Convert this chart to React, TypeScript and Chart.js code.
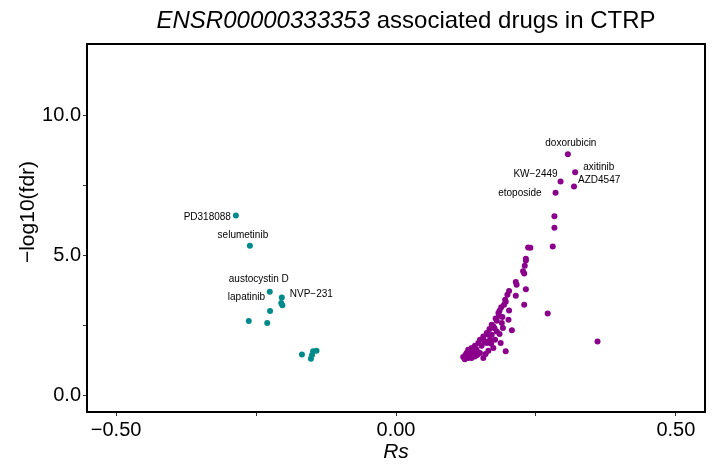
import React, { useEffect, useRef } from 'react';
import { Chart, registerables } from 'chart.js';

Chart.register(...registerables);

// ---- data ----
const negNames = ['PD318088', 'selumetinib', 'austocystin D', 'NVP\u2212231', '', '', 'lapatinib', '', '', '', '', '', '', ''];
const negRs = [-0.286, -0.261, -0.2255, -0.204, -0.205, -0.203, -0.225, -0.263, -0.230, -0.168, -0.152, -0.148, -0.142, -0.150];
const negFdr = [6.42, 5.34, 3.70, 3.50, 3.30, 3.22, 3.02, 2.66, 2.59, 1.47, 1.32, 1.58, 1.60, 1.45];

const posNames = ['doxorubicin', 'axitinib', 'KW\u22122449', 'AZD4547', 'etoposide'];
const posRs = [
  0.307, 0.320, 0.294, 0.318, 0.285,
  0.283, 0.283, 0.280, 0.236, 0.240, 0.232, 0.232, 0.230, 0.227, 0.229,
  0.214, 0.2155, 0.232, 0.202, 0.214, 0.229, 0.271, 0.360, 0.199, 0.195,
  0.193, 0.202, 0.185, 0.184, 0.201, 0.180, 0.189, 0.207, 0.191, 0.171,
  0.167, 0.162, 0.156, 0.150, 0.147, 0.141, 0.135, 0.129, 0.126, 0.120,
  0.135, 0.156, 0.160, 0.174, 0.187, 0.196, 0.168, 0.162, 0.153, 0.144,
  0.132, 0.150, 0.141, 0.129, 0.174, 0.180, 0.165, 0.171, 0.177, 0.178,
  0.183, 0.188, 0.196, 0.158, 0.138, 0.124, 0.145, 0.165, 0.170, 0.185,
  0.176, 0.190, 0.123, 0.131, 0.140,
];
const posFdr = [
  8.60, 7.96, 7.63, 7.45, 7.23,
  6.39, 5.98, 5.32, 5.28, 5.27, 4.88, 4.82, 4.63, 4.43, 4.35,
  4.05, 3.95, 3.79, 3.73, 3.56, 3.24, 2.93, 1.93, 3.60, 3.42,
  3.24, 3.04, 3.03, 2.85, 2.71, 2.67, 2.59, 2.33, 2.41, 2.53,
  2.38, 2.23, 2.11, 1.99, 1.88, 1.78, 1.70, 1.64, 1.52, 1.38,
  1.34, 1.34, 1.49, 1.70, 1.88, 1.58, 1.99, 1.88, 1.78, 1.64,
  1.52, 1.52, 1.40, 1.34, 2.47, 2.29, 2.17, 2.17, 1.99, 2.75,
  2.95, 3.15, 3.35, 1.95, 1.55, 1.45, 1.45, 1.60, 1.85, 2.20,
  2.40, 2.80, 1.30, 1.42, 1.62,
];

const xTickValues = [-0.5, -0.25, 0, 0.25, 0.5];
const xTickLabels = ['\u22120.50', '', '0.00', '', '0.50'];
const yTickValues = [0, 2.5, 5, 7.5, 10];
const yTickLabels = ['0.0', '', '5.0', '', '10.0'];

const titleItalic = 'ENSR00000333353';
const titleRest = ' associated drugs in CTRP';
const xTitle = 'Rs';
const yTitle = '\u2212log10(fdr)';

// ---- label styles (offsets in px from the point) ----
const labelStyle: Record<string, { dx: number; dy: number; align: CanvasTextAlign }> = {
  PD318088: { dx: -5, dy: 2, align: 'right' },
  selumetinib: { dx: -7, dy: -11, align: 'center' },
  'austocystin D': { dx: -11, dy: -13, align: 'center' },
  'NVP\u2212231': { dx: 8, dy: -3, align: 'left' },
  lapatinib: { dx: -5, dy: -14, align: 'right' },
  doxorubicin: { dx: 3, dy: -11, align: 'center' },
  axitinib: { dx: 8, dy: -5, align: 'left' },
  'KW\u22122449': { dx: -3, dy: -7, align: 'right' },
  AZD4547: { dx: 4, dy: -6, align: 'left' },
  etoposide: { dx: -14, dy: 0, align: 'right' },
};

const FONT = '"Liberation Sans", Arial, sans-serif';

export default function App() {
  const ref = useRef<HTMLCanvasElement | null>(null);

  useEffect(() => {
    if (!ref.current) return;

    const negData = negRs.map((x, i) => ({ x, y: negFdr[i] }));
    const posData = posRs.map((x, i) => ({ x, y: posFdr[i] }));

    const framePlugin = {
      id: 'frameAndLabels',
      afterDatasetsDraw(chart: any) {
        const { ctx, chartArea, scales } = chart;
        ctx.save();
        // labels
        ctx.fillStyle = '#000';
        ctx.font = `10px ${FONT}`;
        ctx.textBaseline = 'middle';
        const drawLabels = (names: string[], xs: number[], ys: number[]) => {
          names.forEach((n, i) => {
            if (!n) return;
            const st = labelStyle[n];
            const px = scales.x.getPixelForValue(xs[i]);
            const py = scales.y.getPixelForValue(ys[i]);
            ctx.textAlign = st.align;
            ctx.fillText(n, px + st.dx, py + st.dy);
          });
        };
        drawLabels(negNames, negRs, negFdr);
        drawLabels(posNames, posRs, posFdr);
        // frame
        ctx.strokeStyle = '#000';
        ctx.lineWidth = 2;
        ctx.strokeRect(chartArea.left, chartArea.top, chartArea.right - chartArea.left, chartArea.bottom - chartArea.top);
        // title
        ctx.textBaseline = 'alphabetic';
        ctx.textAlign = 'left';
        ctx.font = `italic 24px ${FONT}`;
        const w1 = ctx.measureText(titleItalic).width;
        ctx.font = `24px ${FONT}`;
        const w2 = ctx.measureText(titleRest).width;
        const cx = (chartArea.left + chartArea.right) / 2 + 10;
        const x0 = cx - (w1 + w2) / 2;
        const ty = 28;
        ctx.font = `italic 24px ${FONT}`;
        ctx.fillText(titleItalic, x0, ty);
        ctx.font = `24px ${FONT}`;
        ctx.fillText(titleRest, x0 + w1, ty);
        // y axis title
        ctx.save();
        ctx.translate(28, 212);
        ctx.rotate(-Math.PI / 2);
        ctx.textAlign = 'center';
        ctx.textBaseline = 'middle';
        ctx.font = `21px ${FONT}`;
        ctx.fillText(yTitle, 0, 0);
        ctx.restore();
        ctx.restore();
      },
    };

    const chart = new Chart(ref.current, {
      type: 'scatter',
      data: {
        datasets: [
          {
            data: negData,
            backgroundColor: '#008B8B',
            borderColor: '#008B8B',
            pointRadius: 3,
            pointBorderWidth: 0,
          },
          {
            data: posData,
            backgroundColor: '#8B008B',
            borderColor: '#8B008B',
            pointRadius: 3,
            pointBorderWidth: 0,
          },
        ],
      },
      options: {
        animation: false,
        responsive: false,
        events: [],
        layout: { padding: { top: 44, right: 12, left: 0, bottom: 0 } },
        plugins: {
          legend: { display: false },
          tooltip: { enabled: false },
          title: { display: false },
        },
        scales: {
          x: {
            type: 'linear',
            min: -0.552,
            max: 0.552,
            afterBuildTicks: (scale: any) => {
              scale.ticks = xTickValues.map((v) => ({ value: v }));
            },
            afterFit: (scale: any) => {
              scale.height = 54;
            },
            ticks: {
              autoSkip: false,
              maxRotation: 0,
              padding: 2,
              color: '#000',
              font: { family: FONT, size: 20 },
              callback: (v: any) => {
                const i = xTickValues.findIndex((t) => Math.abs(t - Number(v)) < 1e-9);
                return i >= 0 ? xTickLabels[i] : '';
              },
            },
            grid: { drawOnChartArea: false, drawTicks: true, tickLength: 4, color: '#333', lineWidth: 1 },
            border: { display: true, color: '#000', width: 2 },
            title: {
              display: true,
              text: xTitle,
              color: '#000',
              font: { family: FONT, size: 21, style: 'italic' },
              padding: { top: 0, bottom: 1 },
            },
          },
          y: {
            type: 'linear',
            min: -0.58,
            max: 12.53,
            afterBuildTicks: (scale: any) => {
              scale.ticks = yTickValues.map((v) => ({ value: v }));
            },
            afterFit: (scale: any) => {
              scale.width = 87;
            },
            ticks: {
              autoSkip: false,
              padding: 2,
              color: '#000',
              font: { family: FONT, size: 20 },
              callback: (v: any) => {
                const i = yTickValues.findIndex((t) => Math.abs(t - Number(v)) < 1e-9);
                return i >= 0 ? yTickLabels[i] : '';
              },
            },
            grid: { drawOnChartArea: false, drawTicks: true, tickLength: 4, color: '#333', lineWidth: 1 },
            border: { display: true, color: '#000', width: 2 },
            title: { display: false },
          },
        },
      },
      plugins: [framePlugin],
    } as any);

    return () => chart.destroy();
  }, []);

  return (
    <div style={{ position: 'absolute', left: 0, top: 0, width: 717, height: 466, background: '#fff' }}>
      <canvas ref={ref} width={717} height={466} style={{ display: 'block', width: 717, height: 466 }} />
    </div>
  );
}
